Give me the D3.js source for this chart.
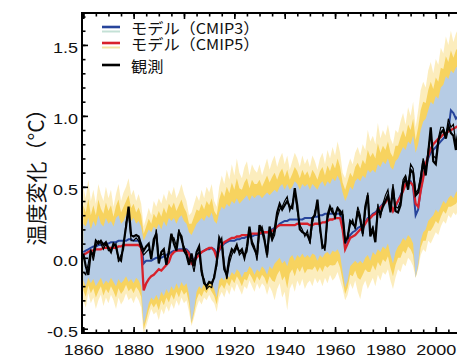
<!DOCTYPE html>
<html>
<head>
<meta charset="utf-8">
<script src="https://cdn.jsdelivr.net/npm/d3@7"></script>
<style>
  body { margin: 0; background: #fff; }
  svg { display: block; }
  .tick text { font-family: "Liberation Sans", Arial, sans-serif; font-size: 15px; fill: #111;
    transform-box: fill-box; transform: scaleX(1.2); }
  .xlab .tick text { transform-origin: 50% 50%; }
  .ylab .tick text { transform-origin: 100% 50%; }
  .legend text { transform-box: fill-box; transform-origin: 0 50%; transform: scaleX(1.08); }
</style>
</head>
<body>
<script>
// annual values, 1860..2010
const years = d3.range(1860, 2011);

// observations (two datasets, black)
const obsA = [
  0.03, -0.06, -0.12, 0.04, 0.02, 0.12, 0.10, 0.12, 0.09, 0.11,
  0.07, 0.04, 0.10, 0.08, 0.00, -0.02, 0.10, 0.22, 0.36, 0.16,
  0.15, 0.16, 0.15, 0.09, 0.05, 0.08, 0.10, -0.01, 0.13, 0.17,
  -0.04, 0.04, 0.06, -0.05, 0.05, 0.17, 0.10, 0.05, 0.18, 0.15,
  0.05, 0.02, -0.05, 0.03, -0.06, 0.04, 0.08, -0.09, -0.18, -0.20,
  -0.17, -0.18, -0.14, -0.03, 0.14, 0.10, -0.08, -0.12, 0.00, 0.06,
  0.04, 0.08, 0.04, 0.06, 0.00, 0.08, 0.22, 0.10, 0.06, 0.02,
  0.23, 0.19, 0.12, 0.02, 0.22, 0.14, 0.20, 0.32, 0.38, 0.34,
  0.37, 0.40, 0.36, 0.35, 0.49, 0.37, 0.20, 0.18, 0.17, 0.16,
  0.12, 0.28, 0.30, 0.41, 0.22, 0.07, 0.08, 0.30, 0.36, 0.32,
  0.30, 0.35, 0.33, 0.30, 0.12, 0.14, 0.26, 0.24, 0.22, 0.33,
  0.27, 0.17, 0.36, 0.44, 0.15, 0.20, 0.11, 0.35, 0.31, 0.36,
  0.40, 0.44, 0.32, 0.49, 0.33, 0.32, 0.37, 0.52, 0.56, 0.48,
  0.62, 0.60, 0.44, 0.46, 0.55, 0.68, 0.58, 0.74, 0.92, 0.68,
  0.66, 0.82, 0.88, 0.90, 0.84, 0.93, 0.88, 0.86, 0.76, 0.88,
  0.94
];
const obsB = [
  -0.10, -0.12, -0.04, 0.06, -0.02, 0.08, 0.12, 0.10, 0.06, 0.10,
  0.05, 0.06, 0.08, 0.10, -0.03, 0.02, 0.06, 0.25, 0.32, 0.12,
  0.12, 0.14, 0.12, 0.06, 0.02, 0.04, 0.06, 0.02, 0.08, 0.20,
  0.00, 0.02, 0.03, -0.02, 0.02, 0.14, 0.14, 0.08, 0.20, 0.12,
  0.08, 0.04, -0.02, -0.02, -0.10, 0.02, 0.04, -0.12, -0.15, -0.22,
  -0.20, -0.21, -0.12, -0.06, 0.10, 0.14, -0.04, -0.15, -0.04, 0.02,
  0.06, 0.10, 0.02, 0.04, 0.02, 0.04, 0.18, 0.12, 0.08, -0.02,
  0.18, 0.22, 0.15, 0.00, 0.18, 0.12, 0.16, 0.28, 0.34, 0.36,
  0.40, 0.43, 0.33, 0.38, 0.46, 0.33, 0.23, 0.20, 0.15, 0.19,
  0.10, 0.24, 0.33, 0.38, 0.19, 0.10, 0.05, 0.27, 0.34, 0.35,
  0.27, 0.36, 0.30, 0.33, 0.10, 0.16, 0.23, 0.27, 0.20, 0.36,
  0.30, 0.15, 0.32, 0.46, 0.18, 0.22, 0.14, 0.38, 0.28, 0.38,
  0.44, 0.48, 0.35, 0.52, 0.36, 0.35, 0.40, 0.55, 0.58, 0.50,
  0.66, 0.63, 0.46, 0.48, 0.58, 0.70, 0.62, 0.76, 0.88, 0.72,
  0.70, 0.84, 0.92, 0.92, 0.86, 0.98, 0.92, 0.94, 0.80, 0.92,
  0.98
];

// multi-model means
const cmip5Mean = [
  0.02, 0.03, 0.04, 0.05, 0.05, 0.06, 0.06, 0.06, 0.07, 0.07,
  0.07, 0.07, 0.07, 0.07, 0.08, 0.08, 0.09, 0.09, 0.09, 0.09,
  0.09, 0.09, 0.09, 0.07, -0.23, -0.18, -0.15, -0.13, -0.12, -0.10,
  -0.08, -0.09, -0.07, -0.05, -0.03, 0.02, 0.04, 0.05, 0.05, 0.05,
  0.05, 0.05, 0.03, -0.04, -0.02, 0.00, 0.02, 0.04, 0.05, 0.06,
  0.07, 0.07, 0.05, 0.00, 0.06, 0.09, 0.11, 0.12, 0.13, 0.14,
  0.14, 0.15, 0.15, 0.16, 0.16, 0.16, 0.16, 0.17, 0.17, 0.17,
  0.17, 0.18, 0.18, 0.18, 0.18, 0.19, 0.20, 0.22, 0.23, 0.23,
  0.23, 0.23, 0.23, 0.23, 0.23, 0.24, 0.24, 0.24, 0.24, 0.24,
  0.23, 0.23, 0.24, 0.24, 0.24, 0.25, 0.25, 0.26, 0.27, 0.27,
  0.28, 0.28, 0.28, 0.20, 0.06, 0.10, 0.14, 0.15, 0.16, 0.18,
  0.20, 0.21, 0.24, 0.27, 0.28, 0.30, 0.31, 0.33, 0.35, 0.37,
  0.39, 0.42, 0.38, 0.33, 0.37, 0.40, 0.43, 0.47, 0.52, 0.53,
  0.53, 0.51, 0.38, 0.36, 0.47, 0.56, 0.66, 0.72, 0.77, 0.80,
  0.82, 0.84, 0.85, 0.87, 0.88, 0.89, 0.90, 0.91, 0.92, 0.93,
  0.94
];
const cmip3Mean = [
  0.04, 0.05, 0.06, 0.07, 0.08, 0.08, 0.09, 0.09, 0.10, 0.10,
  0.10, 0.11, 0.11, 0.11, 0.12, 0.12, 0.12, 0.12, 0.13, 0.13,
  0.12, 0.12, 0.12, 0.10, -0.04, -0.02, -0.02, -0.02, -0.01, 0.00,
  0.00, 0.00, 0.01, 0.02, 0.03, 0.04, 0.05, 0.05, 0.06, 0.06,
  0.06, 0.06, 0.04, -0.02, -0.01, 0.01, 0.03, 0.04, 0.05, 0.06,
  0.06, 0.07, 0.06, 0.03, 0.05, 0.08, 0.10, 0.11, 0.12, 0.12,
  0.12, 0.13, 0.13, 0.14, 0.14, 0.15, 0.15, 0.15, 0.16, 0.16,
  0.17, 0.17, 0.18, 0.18, 0.19, 0.20, 0.21, 0.22, 0.24, 0.25,
  0.26, 0.26, 0.27, 0.27, 0.27, 0.27, 0.27, 0.27, 0.28, 0.28,
  0.28, 0.28, 0.29, 0.29, 0.30, 0.30, 0.31, 0.31, 0.31, 0.31,
  0.31, 0.31, 0.31, 0.24, 0.10, 0.12, 0.16, 0.18, 0.19, 0.21,
  0.22, 0.23, 0.25, 0.28, 0.29, 0.31, 0.32, 0.34, 0.36, 0.38,
  0.40, 0.42, 0.36, 0.33, 0.36, 0.40, 0.44, 0.48, 0.52, 0.54,
  0.54, 0.50, 0.30, 0.34, 0.48, 0.58, 0.64, 0.70, 0.74, 0.76,
  0.78, 0.80, 0.82, 0.84, 0.86, 0.90, 1.04, 1.02, 0.98, 1.00,
  1.02
];

// CMIP5 individual-model spread (yellow), upper / lower edge
const cmip5Hi = [
  0.50, 0.42, 0.55, 0.40, 0.48, 0.38, 0.52, 0.45, 0.40, 0.50,
  0.42, 0.48, 0.36, 0.45, 0.52, 0.40, 0.46, 0.50, 0.56, 0.44,
  0.48, 0.40, 0.45, 0.38, 0.22, 0.28, 0.35, 0.30, 0.40, 0.36,
  0.42, 0.38, 0.45, 0.40, 0.48, 0.44, 0.50, 0.42, 0.46, 0.52,
  0.45, 0.40, 0.30, 0.32, 0.38, 0.44, 0.40, 0.48, 0.42, 0.50,
  0.46, 0.52, 0.40, 0.36, 0.50, 0.58, 0.52, 0.62, 0.55, 0.66,
  0.58, 0.70, 0.60, 0.56, 0.64, 0.68, 0.58, 0.66, 0.62, 0.60,
  0.66, 0.58, 0.64, 0.70, 0.62, 0.68, 0.72, 0.64, 0.70, 0.74,
  0.66, 0.72, 0.62, 0.68, 0.74, 0.70, 0.64, 0.72, 0.66, 0.70,
  0.64, 0.72, 0.68, 0.62, 0.70, 0.74, 0.66, 0.76, 0.70, 0.78,
  0.72, 0.82, 0.74, 0.60, 0.56, 0.64, 0.70, 0.66, 0.74, 0.78,
  0.72, 0.80, 0.76, 0.90, 0.82, 0.86, 0.80, 0.95, 0.84, 0.90,
  0.86, 0.94, 0.84, 0.80, 0.90, 0.88, 0.96, 1.02, 0.94, 1.06,
  1.00, 1.10, 0.92, 1.04, 1.18, 1.24, 1.20, 1.32, 1.38, 1.30,
  1.40, 1.36, 1.48, 1.44, 1.56, 1.50, 1.60, 1.52, 1.58, 1.62,
  1.60
];
const cmip5Lo = [
  -0.30, -0.35, -0.25, -0.32, -0.28, -0.36, -0.30, -0.26, -0.34, -0.28,
  -0.32, -0.26, -0.30, -0.36, -0.28, -0.33, -0.30, -0.25, -0.30, -0.28,
  -0.32, -0.27, -0.30, -0.35, -0.54, -0.48, -0.42, -0.36, -0.40, -0.38,
  -0.44, -0.36, -0.40, -0.34, -0.38, -0.32, -0.36, -0.30, -0.34, -0.28,
  -0.32, -0.30, -0.38, -0.48, -0.42, -0.35, -0.30, -0.33, -0.28, -0.30,
  -0.26, -0.30, -0.32, -0.38, -0.28, -0.24, -0.28, -0.22, -0.26, -0.20,
  -0.24, -0.18, -0.22, -0.26, -0.20, -0.22, -0.16, -0.20, -0.24, -0.18,
  -0.22, -0.18, -0.20, -0.26, -0.20, -0.24, -0.30, -0.22, -0.18, -0.28,
  -0.24, -0.37, -0.22, -0.18, -0.24, -0.16, -0.20, -0.15, -0.22, -0.18,
  -0.16, -0.20, -0.14, -0.18, -0.15, -0.20, -0.14, -0.18, -0.12, -0.16,
  -0.14, -0.10, -0.16, -0.22, -0.30, -0.26, -0.18, -0.22, -0.16, -0.24,
  -0.29, -0.20, -0.16, -0.22, -0.18, -0.14, -0.20, -0.12, -0.16, -0.10,
  -0.12, -0.08, -0.16, -0.22, -0.14, -0.08, -0.10, -0.04, -0.06, 0.00,
  -0.02, -0.06, -0.14, -0.08, 0.02, 0.06, 0.04, 0.12, 0.10, 0.14,
  0.18, 0.16, 0.22, 0.26, 0.24, 0.30, 0.28, 0.32, 0.30, 0.34,
  0.34
];

// CMIP3 model range (light blue band)
const cmip3Hi = [
  0.24, 0.22, 0.28, 0.20, 0.26, 0.22, 0.30, 0.24, 0.22, 0.28,
  0.24, 0.26, 0.22, 0.28, 0.30, 0.24, 0.26, 0.30, 0.32, 0.26,
  0.28, 0.24, 0.26, 0.22, 0.12, 0.16, 0.20, 0.18, 0.22, 0.20,
  0.24, 0.20, 0.26, 0.22, 0.28, 0.26, 0.28, 0.24, 0.28, 0.30,
  0.26, 0.24, 0.18, 0.16, 0.20, 0.24, 0.26, 0.28, 0.26, 0.30,
  0.28, 0.32, 0.26, 0.24, 0.32, 0.36, 0.34, 0.38, 0.36, 0.40,
  0.38, 0.42, 0.38, 0.40, 0.42, 0.44, 0.40, 0.44, 0.42, 0.44,
  0.44, 0.42, 0.44, 0.46, 0.44, 0.46, 0.48, 0.46, 0.50, 0.52,
  0.48, 0.52, 0.48, 0.50, 0.54, 0.52, 0.48, 0.52, 0.50, 0.52,
  0.48, 0.52, 0.50, 0.48, 0.52, 0.54, 0.50, 0.54, 0.52, 0.56,
  0.54, 0.58, 0.54, 0.46, 0.40, 0.44, 0.50, 0.48, 0.54, 0.56,
  0.54, 0.58, 0.56, 0.62, 0.60, 0.62, 0.60, 0.66, 0.64, 0.68,
  0.66, 0.70, 0.64, 0.62, 0.68, 0.70, 0.74, 0.78, 0.76, 0.82,
  0.80, 0.86, 0.74, 0.80, 0.90, 0.96, 0.98, 1.04, 1.10, 1.08,
  1.14, 1.12, 1.20, 1.22, 1.28, 1.26, 1.32, 1.30, 1.34, 1.36,
  1.38
];
const cmip3Lo = [
  -0.16, -0.20, -0.14, -0.18, -0.15, -0.20, -0.17, -0.14, -0.19, -0.16,
  -0.18, -0.14, -0.17, -0.20, -0.15, -0.18, -0.16, -0.13, -0.17, -0.15,
  -0.18, -0.14, -0.16, -0.20, -0.47, -0.40, -0.32, -0.28, -0.30, -0.26,
  -0.30, -0.24, -0.27, -0.22, -0.25, -0.20, -0.23, -0.18, -0.22, -0.17,
  -0.20, -0.18, -0.26, -0.45, -0.36, -0.24, -0.20, -0.22, -0.18, -0.20,
  -0.16, -0.18, -0.22, -0.28, -0.16, -0.14, -0.16, -0.12, -0.14, -0.10,
  -0.12, -0.08, -0.10, -0.14, -0.10, -0.10, -0.06, -0.08, -0.12, -0.08,
  -0.10, -0.06, -0.08, -0.12, -0.06, -0.08, -0.04, -0.02, 0.00, -0.04,
  -0.02, -0.06, 0.00, 0.02, -0.02, 0.02, 0.00, 0.03, 0.00, 0.02,
  0.00, 0.03, 0.02, -0.02, 0.02, 0.00, 0.03, 0.04, 0.02, 0.05,
  0.04, 0.06, 0.02, -0.10, -0.21, -0.16, -0.06, -0.04, -0.02, -0.04,
  -0.02, -0.04, 0.00, 0.02, -0.02, 0.04, 0.02, 0.06, 0.04, 0.08,
  0.06, 0.10, 0.02, -0.04, 0.04, 0.08, 0.10, 0.14, 0.12, 0.16,
  0.14, 0.10, -0.14, -0.04, 0.12, 0.18, 0.20, 0.26, 0.28, 0.30,
  0.34, 0.32, 0.36, 0.40, 0.38, 0.42, 0.44, 0.42, 0.46, 0.48,
  0.48
];

const xMajor = d3.range(1860, 2011, 20);
const xMinor = d3.range(1860, 2011, 5);
const yMajor = [-0.5, 0, 0.5, 1.0, 1.5];
const yMinor = d3.range(-5, 18).map((d) => d / 10);

const legendItems = [
  { label: "モデル（CMIP3）", main: "#27449b", pale: "#c4e1d6" },
  { label: "モデル（CMIP5）", main: "#d8212b", pale: "#f3e4a4" },
  { label: "観測", main: "#000", pale: null },
];

const width = 457,
  height = 358;
const plotLeft = 82,
  plotTop = 13,
  plotBottom = 333;

const x = d3.scaleLinear().domain([1859.5, 2012]).range([plotLeft, 466]);
const y = d3.scaleLinear().domain([-0.53, 1.725]).range([plotBottom, plotTop]);

const svg = d3
  .select("body")
  .append("svg")
  .attr("width", width)
  .attr("height", height);

svg
  .append("clipPath")
  .attr("id", "plot")
  .append("rect")
  .attr("x", plotLeft)
  .attr("y", plotTop)
  .attr("width", 400)
  .attr("height", plotBottom - plotTop);

const plot = svg.append("g").attr("clip-path", "url(#plot)");

const band = (hi, lo) =>
  d3
    .area()
    .x((d, i) => x(years[i]))
    .y0((d, i) => y(lo[i]))
    .y1((d, i) => y(hi[i]));

const line = d3
  .line()
  .x((d, i) => x(years[i]))
  .y((d) => y(d));

// yellow CMIP5 spread: pale outer layer, denser gold toward the middle
plot
  .append("path")
  .datum(years)
  .attr("d", band(cmip5Hi, cmip5Lo))
  .attr("fill", "#f9df86")
  .attr("fill-opacity", 0.55);

const midHi = cmip5Hi.map((d, i) => (d + cmip3Hi[i]) / 2);
const midLo = cmip5Lo.map((d, i) => (d + cmip3Lo[i]) / 2);
plot
  .append("path")
  .datum(years)
  .attr("d", band(midHi, midLo))
  .attr("fill", "#f3c11f")
  .attr("fill-opacity", 0.6);

// blue CMIP3 range
plot
  .append("path")
  .datum(years)
  .attr("d", band(cmip3Hi, cmip3Lo))
  .attr("fill", "#b6cce5");

plot
  .append("path")
  .datum(cmip3Mean)
  .attr("d", line)
  .attr("fill", "none")
  .attr("stroke", "#27449b")
  .attr("stroke-width", 2);

plot
  .append("path")
  .datum(cmip5Mean)
  .attr("d", line)
  .attr("fill", "none")
  .attr("stroke", "#d8212b")
  .attr("stroke-width", 2.3);

plot
  .append("path")
  .datum(obsB)
  .attr("d", line)
  .attr("fill", "none")
  .attr("stroke", "#000")
  .attr("stroke-width", 1.2);

plot
  .append("path")
  .datum(obsA)
  .attr("d", line)
  .attr("fill", "none")
  .attr("stroke", "#000")
  .attr("stroke-width", 2.2);

// axes: inward ticks on bottom, top and left
const noLabel = () => "";

svg
  .append("g")
  .attr("class", "xlab")
  .attr("transform", `translate(0,${plotBottom})`)
  .call(
    d3
      .axisBottom(x)
      .tickValues(xMajor)
      .tickSize(-6)
      .tickPadding(11.5)
      .tickFormat(d3.format("d")),
  );
svg
  .append("g")
  .attr("transform", `translate(0,${plotBottom})`)
  .call(d3.axisBottom(x).tickValues(xMinor).tickSize(-3.5).tickFormat(noLabel));

svg
  .append("g")
  .attr("transform", `translate(0,${plotTop})`)
  .call(d3.axisTop(x).tickValues(xMajor).tickSize(-6).tickFormat(noLabel));
svg
  .append("g")
  .attr("transform", `translate(0,${plotTop})`)
  .call(d3.axisTop(x).tickValues(xMinor).tickSize(-3.5).tickFormat(noLabel));

svg
  .append("g")
  .attr("class", "ylab")
  .attr("transform", `translate(${plotLeft},0)`)
  .call(
    d3
      .axisLeft(y)
      .tickValues(yMajor)
      .tickSize(-6)
      .tickPadding(4)
      .tickFormat((d) => d.toFixed(1)),
  );
svg
  .append("g")
  .attr("transform", `translate(${plotLeft},0)`)
  .call(d3.axisLeft(y).tickValues(yMinor).tickSize(-3.5).tickFormat(noLabel));

svg.selectAll(".domain").remove();
svg.selectAll(".tick line").attr("stroke", "#000").attr("stroke-width", 1.6);
svg.selectAll(".ylab .tick text").attr("dy", "0.52em");

// frame
svg
  .append("path")
  .attr("d", `M${width + 5},${plotTop}H${plotLeft}V${plotBottom}H${width + 5}`)
  .attr("fill", "none")
  .attr("stroke", "#000")
  .attr("stroke-width", 2);

// y title
svg
  .append("text")
  .attr("transform", "translate(36,172) rotate(-90)")
  .attr("text-anchor", "middle")
  .attr("dy", "0.36em")
  .style("font-family", '"Noto Sans CJK JP", sans-serif')
  .style("font-size", "21px")
  .attr("fill", "#111")
  .text("温度変化（°C）");

// legend
const rowY = [27, 43, 65];
const legend = svg
  .selectAll(".legend")
  .data(legendItems)
  .join("g")
  .attr("class", "legend")
  .attr("transform", (d, i) => `translate(0,${rowY[i]})`);

legend
  .filter((d) => d.pale)
  .append("line")
  .attr("x1", 102)
  .attr("x2", 120)
  .attr("y1", 4.5)
  .attr("y2", 4.5)
  .attr("stroke", (d) => d.pale)
  .attr("stroke-width", 2);

legend
  .append("line")
  .attr("x1", 102)
  .attr("x2", 120)
  .attr("y1", 0)
  .attr("y2", 0)
  .attr("stroke", (d) => d.main)
  .attr("stroke-width", 2.6);

legend
  .append("text")
  .attr("x", 131)
  .attr("y", 7)
  .style("font-family", '"Noto Sans CJK JP", sans-serif')
  .style("font-size", "15px")
  .attr("fill", "#111")
  .text((d) => d.label);
</script>
</body>
</html>
